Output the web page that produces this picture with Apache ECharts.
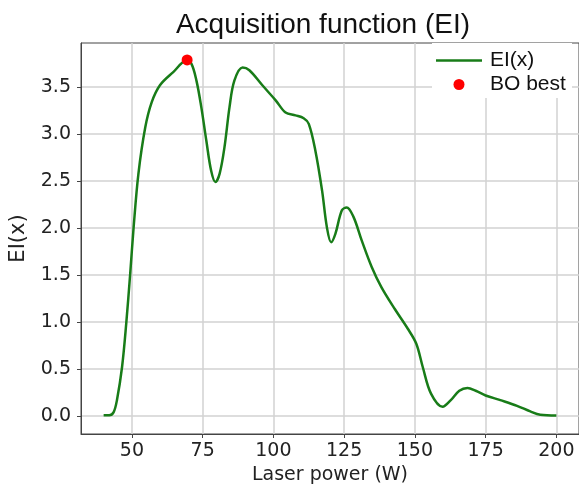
<!DOCTYPE html>
<html>
<head>
<meta charset="utf-8">
<script src="https://cdn.jsdelivr.net/npm/echarts@6/dist/echarts.min.js"></script>
<style>html,body{margin:0;padding:0;background:#fff}#c{width:579px;height:492px}</style>
</head>
<body>
<div id="c"></div>
<script>
const powerW = [40, 42, 43.5, 44.7, 46.5, 48, 49.4, 50.6, 52.3, 54.7, 57, 59.9, 64.6, 69.3, 71, 72.8, 74.5, 76.3, 78, 79.5, 81, 82.7, 84.5, 86.2, 89.1, 91.5, 96.1, 100.8, 104.3, 107.8, 110.7, 112.5, 114.8, 117.2, 118.9, 120.4, 121.9, 124.2, 125.9, 128.3, 131.2, 134.7, 138.2, 142.9, 147.5, 150.5, 152.8, 155.7, 159.8, 162.7, 165.7, 168.6, 171.5, 175, 180.2, 186.1, 190.8, 194.3, 200];
const eiValues = [0.01, 0.01, 0.04, 0.17, 0.52, 0.99, 1.52, 2.01, 2.58, 3.07, 3.34, 3.52, 3.66, 3.78, 3.75, 3.57, 3.29, 2.93, 2.61, 2.49, 2.58, 2.86, 3.29, 3.57, 3.71, 3.68, 3.52, 3.36, 3.23, 3.2, 3.17, 3.11, 2.83, 2.40, 2.01, 1.85, 1.94, 2.19, 2.22, 2.12, 1.87, 1.59, 1.37, 1.14, 0.93, 0.77, 0.52, 0.24, 0.10, 0.17, 0.27, 0.30, 0.27, 0.22, 0.17, 0.11, 0.05, 0.015, 0.007];
const bestPoint = [69.5, 3.79];
const xTicks = [50, 75, 100, 125, 150, 175, 200];
const yTicks = [0, 0.5, 1.0, 1.5, 2.0, 2.5, 3.0, 3.5];
const seriesNames = ['EI(x)', 'BO best'];

const chart = echarts.init(document.getElementById('c'), null, {renderer: 'canvas'});
const lineData = powerW.map((x, i) => [x, eiValues[i]]);
const tickFont = {fontFamily: 'DejaVu Sans', fontSize: 19, color: '#222'};
const legendText = {fontFamily: 'Liberation Sans', fontSize: 21, lineHeight: 21, color: '#111', padding: [0, 0, 0, 3]};
chart.setOption({
  animation: false,
  backgroundColor: '#fff',
  title: {
    text: 'Acquisition function (EI)',
    left: 318, top: 6, textAlign: 'center',
    textStyle: {fontFamily: 'Liberation Sans', fontSize: 28, fontWeight: 'normal', color: '#111'}
  },
  graphic: [{
    type: 'rect', left: 432, top: 43, z: 50, silent: true,
    shape: {width: 140, height: 55},
    style: {fill: '#fff'}
  }],
  grid: {left: 79, top: 43, width: 503, height: 391, show: true, borderColor: '#444', borderWidth: 1, containLabel: false},
  legend: [{
    left: 432, top: 43, z: 60, padding: [7, 5, 0, 4],
    itemWidth: 46, itemHeight: 2.5, icon: 'rect',
    textStyle: legendText,
    data: [{name: seriesNames[0]}]
  }, {
    left: 449.5, top: 74, z: 60, padding: [0, 5, 0, 4],
    itemWidth: 11, itemHeight: 11, icon: 'circle',
    textStyle: Object.assign({}, legendText, {padding: [0, 0, 0, 20.5]}),
    data: [{name: seriesNames[1]}]
  }],
  xAxis: {
    type: 'value', min: 32, max: 208,
    name: 'Laser power (W)', nameLocation: 'middle', nameGap: 32,
    nameTextStyle: {fontFamily: 'DejaVu Sans', fontSize: 19, color: '#222'},
    axisLine: {show: true, onZero: false, lineStyle: {color: '#444', width: 1}},
    axisTick: {show: true, length: 4, inside: false, customValues: xTicks, lineStyle: {color: '#444'}},
    axisLabel: Object.assign({margin: 8, customValues: xTicks}, tickFont),
    splitLine: {show: true, lineStyle: {color: '#d2d2d2', width: 1.5}}
  },
  yAxis: {
    type: 'value', min: -0.19, max: 3.97,
    name: 'EI(x)', nameLocation: 'middle', nameGap: 52,
    nameTextStyle: {fontFamily: 'DejaVu Sans', fontSize: 21, color: '#222'},
    axisLine: {show: true, onZero: false, lineStyle: {color: '#444', width: 1}},
    axisTick: {show: true, length: 4, inside: false, customValues: yTicks, lineStyle: {color: '#444'}},
    axisLabel: Object.assign({margin: 10, customValues: yTicks, formatter: v => v.toFixed(1)}, tickFont),
    splitLine: {show: true, lineStyle: {color: '#d2d2d2', width: 1.5}}
  },
  series: [
    {
      name: seriesNames[0], type: 'line', data: lineData, smooth: 0.35,
      symbol: 'none', showSymbol: false,
      lineStyle: {color: '#187c18', width: 2.5}, itemStyle: {color: '#187c18'}, z: 3
    },
    {
      name: seriesNames[1], type: 'scatter', data: [bestPoint], symbolSize: 11,
      itemStyle: {color: '#ff0000', opacity: 1}, z: 4
    }
  ]
});
</script>
</body>
</html>
